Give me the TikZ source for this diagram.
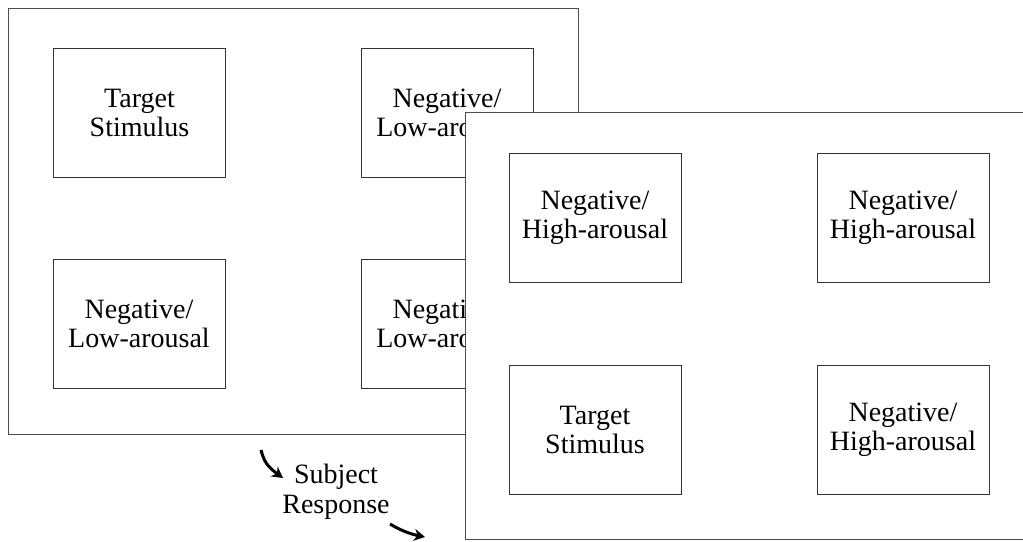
\documentclass[tikz,border=0pt]{standalone}
\usepackage{fontspec}
\setmainfont{Liberation Serif}
\usetikzlibrary{arrows.meta}
\begin{document}
\begin{tikzpicture}[x=1pt,y=-1pt,
  frame/.style={draw=black!70,line width=1pt,fill=white,rectangle,inner sep=0pt},
  stim/.style={draw=black!80,line width=1pt,fill=white,rectangle,inner sep=0pt,
    minimum width=172pt,minimum height=129pt,align=center,
    font=\fontsize{28}{29}\selectfont},
  lbl/.style={align=center,inner sep=0pt,font=\fontsize{28}{30}\selectfont},
  curarrow/.style={line width=3pt,-{Stealth[length=11pt,width=12pt]}}]
\clip (0,0) rectangle (1023,541);
\fill[white] (0,0) rectangle (1023,541);
% first display
\node[frame,minimum width=570pt,minimum height=426pt] (f1) at (293,221) {};
\node[stim] (a1) at (139.5,112.5) {Target\\Stimulus};
\node[stim] (a2) at (447,112.5) {Negative/\\Low-arousal};
\node[stim] (a3) at (139,324) {Negative/\\Low-arousal};
\node[stim] (a4) at (447,324) {Negative/\\Low-arousal};
% second display
\node[frame,minimum width=600pt,minimum height=427pt] (f2) at (765,325.5) {};
\node[stim] (b1) at (595,217.5) {Negative/\\High-arousal};
\node[stim] (b2) at (903,217.5) {Negative/\\High-arousal};
\node[stim] (b3) at (595,429.5) {Target\\Stimulus};
\node[stim] (b4) at (903,429.5) {Negative/\\High-arousal};
% response
\node[lbl] (resp) at (336,492) {Subject\\Response};
\coordinate (p1) at (261,450);
\coordinate (q1) at (283,478);
\coordinate (p2) at (390,524);
\coordinate (q2) at (425,537);
\draw[curarrow] (p1) .. controls (264,462) and (268,467) .. (q1);
\draw[curarrow] (p2) .. controls (400,530) and (410,534) .. (q2);
\end{tikzpicture}
\end{document}
